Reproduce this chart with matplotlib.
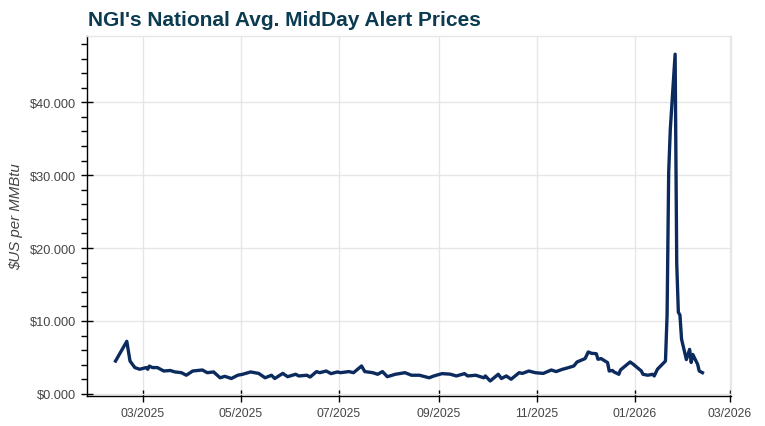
import matplotlib
matplotlib.use("Agg")
import matplotlib.pyplot as plt
import matplotlib.dates as mdates
from matplotlib.ticker import MultipleLocator, FuncFormatter
import pandas as pd

dates = [
    "2025-02-12", "2025-02-19", "2025-02-21", "2025-02-24", "2025-02-27",
    "2025-03-03", "2025-03-04", "2025-03-05", "2025-03-07", "2025-03-10",
    "2025-03-14", "2025-03-18", "2025-03-21", "2025-03-25", "2025-03-28",
    "2025-04-01", "2025-04-07", "2025-04-10", "2025-04-14", "2025-04-18",
    "2025-04-21", "2025-04-25", "2025-04-29", "2025-05-02", "2025-05-07",
    "2025-05-12", "2025-05-16", "2025-05-20", "2025-05-22", "2025-05-27",
    "2025-05-30", "2025-06-04", "2025-06-06", "2025-06-11", "2025-06-13",
    "2025-06-17", "2025-06-19", "2025-06-23", "2025-06-26", "2025-06-30",
    "2025-07-02", "2025-07-07", "2025-07-10", "2025-07-15", "2025-07-17",
    "2025-07-22", "2025-07-25", "2025-07-28", "2025-07-31", "2025-08-05",
    "2025-08-11", "2025-08-15", "2025-08-20", "2025-08-26", "2025-08-29",
    "2025-09-03", "2025-09-08", "2025-09-12", "2025-09-17", "2025-09-19",
    "2025-09-24", "2025-09-29", "2025-09-30", "2025-10-03", "2025-10-08",
    "2025-10-10", "2025-10-13", "2025-10-16", "2025-10-21", "2025-10-23",
    "2025-10-27", "2025-10-31", "2025-11-05", "2025-11-10", "2025-11-13",
    "2025-11-17", "2025-11-20", "2025-11-24", "2025-11-26", "2025-12-01",
    "2025-12-03", "2025-12-05", "2025-12-08", "2025-12-09", "2025-12-11",
    "2025-12-15", "2025-12-16", "2025-12-18", "2025-12-19", "2025-12-22",
    "2025-12-23", "2025-12-26", "2025-12-29", "2025-12-31", "2026-01-05",
    "2026-01-06", "2026-01-09", "2026-01-12", "2026-01-13", "2026-01-15",
    "2026-01-16", "2026-01-20", "2026-01-21", "2026-01-22", "2026-01-23",
    "2026-01-26", "2026-01-27", "2026-01-28", "2026-01-29", "2026-01-30",
    "2026-02-02", "2026-02-04", "2026-02-05", "2026-02-06", "2026-02-09",
    "2026-02-10", "2026-02-12",
]
prices = [
    4.50, 7.20, 4.50, 3.60, 3.37,
    3.60, 3.37, 3.80, 3.60, 3.60,
    3.13, 3.20, 3.00, 2.90, 2.55,
    3.13, 3.27, 2.90, 3.00, 2.20,
    2.40, 2.10, 2.55, 2.68, 3.00,
    2.80, 2.20, 2.55, 2.10, 2.80,
    2.35, 2.68, 2.45, 2.55, 2.30,
    3.05, 2.90, 3.13, 2.77, 3.00,
    2.90, 3.05, 2.90, 3.82, 3.05,
    2.90, 2.68, 3.05, 2.35, 2.68,
    2.90, 2.55, 2.55, 2.20, 2.45,
    2.77, 2.70, 2.45, 2.77, 2.45,
    2.55, 2.20, 2.45, 1.76, 2.68,
    2.10, 2.45, 2.00, 2.90, 2.80,
    3.13, 2.90, 2.80, 3.27, 3.05,
    3.37, 3.55, 3.82, 4.37, 4.83,
    5.74, 5.56, 5.50, 4.74, 4.83,
    4.28, 3.13, 3.20, 3.00, 2.68,
    3.27, 3.82, 4.37, 4.05, 3.13,
    2.68, 2.55, 2.68, 2.45, 3.37,
    3.60, 4.50, 10.80, 30.40, 36.30,
    46.60, 17.90, 11.20, 10.80, 7.50,
    4.70, 6.10, 4.30, 5.40, 4.05,
    3.13, 2.90,
]

x = pd.to_datetime(dates)

fig = plt.figure(figsize=(7.65, 4.27), dpi=100)
ax = fig.add_axes([87/765, 1-397/427, (731-87)/765, (397-37)/427])

ax.plot(x, prices, color="#0b2a5e", lw=2.4, solid_joinstyle="round")

ax.set_xlim(pd.Timestamp("2025-01-25 06:00"), pd.Timestamp("2026-03-01 18:00"))
ax.set_ylim(-0.3, 49.1)

ax.xaxis.set_major_locator(mdates.MonthLocator(bymonth=[1, 3, 5, 7, 9, 11]))
ax.xaxis.set_major_formatter(mdates.DateFormatter("%m/%Y"))
ax.yaxis.set_major_locator(MultipleLocator(10))
ax.yaxis.set_minor_locator(MultipleLocator(2))
ax.yaxis.set_major_formatter(FuncFormatter(lambda v, p: "\\$" + f"{v:.3f}"))

ax.grid(True, which="major", color="#e6e6e6", lw=1)
ax.set_axisbelow(True)

for s in ["top", "right"]:
    ax.spines[s].set_color("#e6e6e6")
    ax.spines[s].set_linewidth(1)
for s in ["left", "bottom"]:
    ax.spines[s].set_color("#000000")
    ax.spines[s].set_linewidth(1)

ax.tick_params(axis="both", which="major", direction="inout", length=8, width=1,
               colors="#000000", labelcolor="#444444", pad=4)
ax.tick_params(axis="x", which="major", labelsize=8.7)
ax.tick_params(axis="y", which="major", labelsize=9.2)
ax.tick_params(axis="y", which="minor", direction="out", length=4, width=1, colors="#000000")
ax.tick_params(axis="x", which="minor", length=0)

for lab in ax.get_xticklabels() + ax.get_yticklabels():
    lab.set_fontfamily("Liberation Sans")

ax.set_ylabel("\\$US per MMBtu", fontsize=10.8, style="italic", color="#444444",
              family="Liberation Sans", labelpad=5)

fig.text(88/765, 1-20/427, "NGI's National Avg. MidDay Alert Prices", fontsize=15,
         fontweight="bold", color="#0b3b50", family="Liberation Sans",
         ha="left", va="center")

fig.savefig("out.png", dpi=100)
